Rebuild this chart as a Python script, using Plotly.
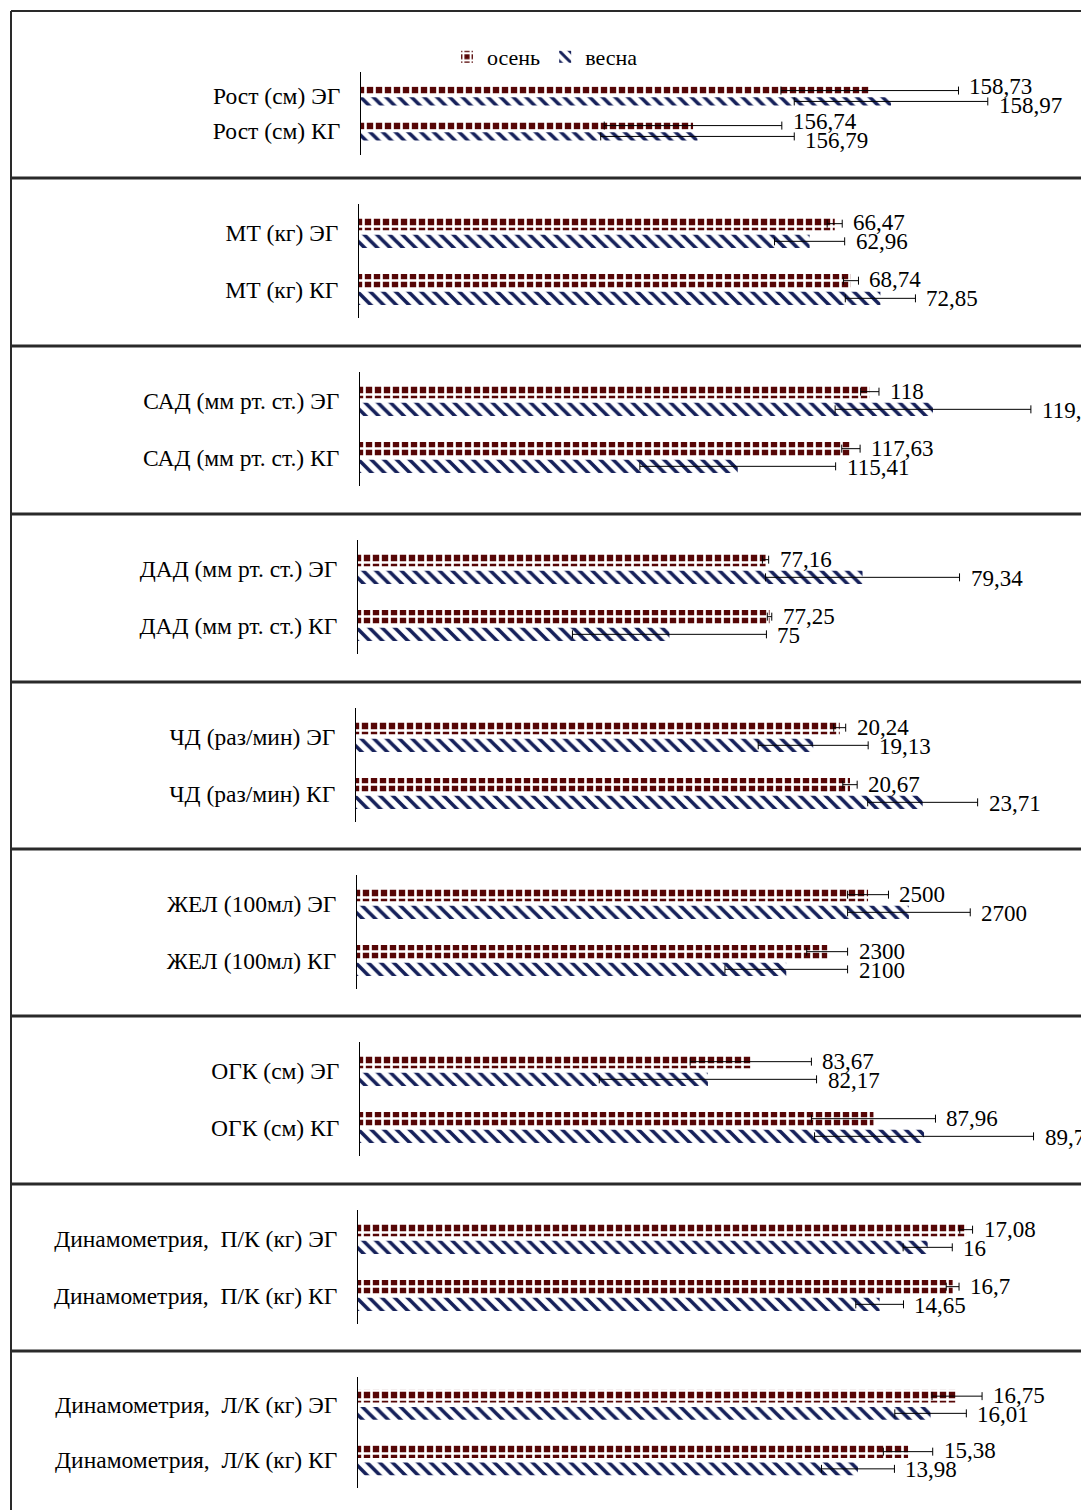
import plotly.graph_objects as go

# ---------------- data ----------------
categories_EG = ["Рост (см) ЭГ", "МТ (кг) ЭГ", "САД (мм рт. ст.) ЭГ", "ДАД (мм рт. ст.) ЭГ",
                 "ЧД (раз/мин) ЭГ", "ЖЕЛ (100мл) ЭГ", "ОГК (см) ЭГ",
                 "Динамометрия,\u00a0 П/К (кг) ЭГ", "Динамометрия,\u00a0 Л/К (кг) ЭГ"]
categories_KG = ["Рост (см) КГ", "МТ (кг) КГ", "САД (мм рт. ст.) КГ", "ДАД (мм рт. ст.) КГ",
                 "ЧД (раз/мин) КГ", "ЖЕЛ (100мл) КГ", "ОГК (см) КГ",
                 "Динамометрия,\u00a0 П/К (кг) КГ", "Динамометрия,\u00a0 Л/К (кг) КГ"]

osen_EG = [158.73, 66.47, 118, 77.16, 20.24, 2500, 83.67, 17.08, 16.75]
osen_KG = [156.74, 68.74, 117.63, 77.25, 20.67, 2300, 87.96, 16.7, 15.38]
vesna_EG = [158.97, 62.96, 119.24, 79.34, 19.13, 2700, 82.17, 16, 16.01]
vesna_KG = [156.79, 72.85, 115.41, 75, 23.71, 2100, 89.73, 14.65, 13.98]

err_osen_EG = [1.0, 1.05, 0.18, 0.07, 0.25, 100, 2.12, 0.18, 0.7]
err_osen_KG = [1.0, 1.05, 0.18, 0.05, 0.3, 100, 2.17, 0.18, 0.69]
err_vesna_EG = [1.09, 4.9, 1.92, 2.18, 2.3, 300, 3.8, 0.69, 1.0]
err_vesna_KG = [1.09, 4.9, 1.92, 2.18, 2.3, 300, 3.83, 0.67, 1.02]

series_names = ["осень", "весна"]

# ---------------- layout config (not data) ----------------
OFF = 8                      # page body margin
W, H = 1089, 1510 - OFF
axis_left_px = [361, 359, 360, 358, 356, 357, 360, 358, 358]
x_min = [153, 0, 108, 68, 0, 0, 70, 0, 0]
x_max = [161.2, 102, 122.3, 84.43, 30.67, 3581, 95.5, 20.53, 20.44]
panel_tops = [11, 178, 346, 514, 682, 849, 1016, 1184, 1351]
plot_top_px = [72] + [t + 26 for t in panel_tops[1:]]
plot_bot_px = [155] + [t + 140 for t in panel_tops[1:]]
plot_bot_px[-1] = panel_tops[-1] + 137


def px_x(v):
    return (v - OFF) / W


def px_y(v):
    return 1 - (v - OFF) / H


FONT = "Liberation Serif"
C_OSEN = "#560606"
C_VESNA = "#15205a"


def fmt(v):
    return f"{v:g}".replace(".", ",")


fig = go.Figure()
annotations = []
for p in range(9):
    n = "" if p == 0 else str(p + 1)
    cats = [categories_EG[p], categories_KG[p]]
    fig.add_trace(go.Bar(
        y=cats, x=[osen_EG[p], osen_KG[p]], orientation="h", name=series_names[0],
        xaxis="x" + n, yaxis="y" + n, showlegend=(p == 0), legendgroup="o",
        marker=dict(color=C_OSEN, line=dict(width=0),
                    pattern=dict(shape="+", fgcolor="white", bgcolor=C_OSEN,
                                 size=9, solidity=0.5, fillmode="replace")),
        error_x=dict(type="data", array=[err_osen_EG[p], err_osen_KG[p]],
                     color="black", thickness=1, width=4),
    ))
    fig.add_trace(go.Bar(
        y=cats, x=[vesna_EG[p], vesna_KG[p]], orientation="h", name=series_names[1],
        xaxis="x" + n, yaxis="y" + n, showlegend=(p == 0), legendgroup="v",
        marker=dict(color="white", line=dict(width=0),
                    pattern=dict(shape="\\", fgcolor=C_VESNA, bgcolor="white",
                                 size=9, solidity=0.4, fillmode="replace")),
        error_x=dict(type="data", array=[err_vesna_EG[p], err_vesna_KG[p]],
                     color="black", thickness=1, width=4),
    ))
    fig.layout["xaxis" + n] = dict(
        domain=[px_x(axis_left_px[p]), px_x(1089)], range=[x_min[p], x_max[p]],
        visible=False, anchor="y" + n, fixedrange=True, automargin=False)
    fig.layout["yaxis" + n] = dict(
        domain=[px_y(plot_bot_px[p]), px_y(plot_top_px[p])], anchor="x" + n,
        type="category", categoryorder="array", categoryarray=cats, autorange="reversed",
        showline=True, linecolor="black", linewidth=1, ticks="", showgrid=False,
        zeroline=False, ticklabelstandoff=15, automargin=False,
        tickfont=dict(family=FONT, size=23.5, color="black"))
    shift = 9.5
    vals = [(osen_EG[p], err_osen_EG[p], cats[0], shift),
            (vesna_EG[p], err_vesna_EG[p], cats[0], -shift),
            (osen_KG[p], err_osen_KG[p], cats[1], shift),
            (vesna_KG[p], err_vesna_KG[p], cats[1], -shift)]
    for v, e, c, s in vals:
        annotations.append(dict(
            x=v + e, y=c, xref="x" + n, yref="y" + n, text=fmt(v), showarrow=False,
            xanchor="left", yanchor="middle", xshift=9, yshift=s,
            font=dict(family=FONT, size=23, color="black")))

shapes = []
for i, t in enumerate(panel_tops):
    shapes.append(dict(type="line", xref="paper", yref="paper", x0=px_x(11), x1=1,
                       y0=px_y(t), y1=px_y(t),
                       line=dict(color="#2a2a2a", width=2 if i == 0 else 3)))
shapes.append(dict(type="line", xref="paper", yref="paper", x0=px_x(11), x1=px_x(11),
                   y0=0, y1=px_y(11), line=dict(color="#2a2a2a", width=2)))

fig.update_layout(
    template="none",
    width=W, height=H,
    margin=dict(l=0, r=0, t=0, b=0, pad=0),
    paper_bgcolor="white", plot_bgcolor="white",
    barmode="group", bargap=0.38, bargroupgap=0.25,
    showlegend=True,
    legend=dict(orientation="h", x=px_x(447), y=px_y(57), xanchor="left", yanchor="middle",
                font=dict(family=FONT, size=22, color="black"), bgcolor="rgba(0,0,0,0)",
                itemwidth=30, tracegroupgap=0),
    annotations=annotations,
    shapes=shapes,
    font=dict(family=FONT),
)

fig.write_html("out.html")
